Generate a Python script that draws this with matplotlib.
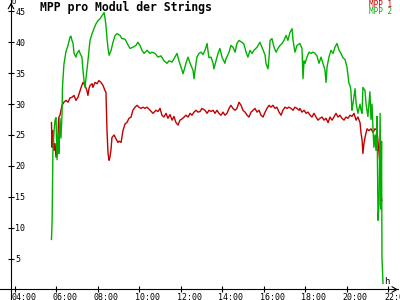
import matplotlib
matplotlib.use("Agg")
import matplotlib.pyplot as plt
import matplotlib.transforms as mtransforms

# time axis in decimal hours, values in V
t_mpp1 = [5.76, 5.79, 5.83, 5.88, 5.93, 5.98, 6.03, 6.08, 6.10, 6.12,
          6.17, 6.27, 6.36, 6.46, 6.56, 6.65, 6.75, 6.85, 6.94, 7.04,
          7.14, 7.19, 7.28, 7.38, 7.47, 7.52, 7.57, 7.62, 7.72, 7.76,
          7.86, 7.96, 8.05, 8.15, 8.25, 8.34, 8.39, 8.44, 8.49, 8.54,
          8.58, 8.63, 8.68, 8.78, 8.87, 8.97, 9.02, 9.12, 9.21, 9.31,
          9.40, 9.50, 9.60, 9.69, 9.79, 9.89, 9.98, 10.08, 10.18, 10.27,
          10.37, 10.52, 10.66, 10.80, 10.90, 11.00, 11.09, 11.19, 11.29, 11.38,
          11.48, 11.58, 11.67, 11.77, 11.87, 11.96, 12.06, 12.16, 12.25, 12.35,
          12.45, 12.54, 12.64, 12.74, 12.83, 12.93, 13.02, 13.17, 13.27, 13.36,
          13.46, 13.56, 13.65, 13.75, 13.84, 13.94, 14.04, 14.13, 14.23, 14.33,
          14.42, 14.52, 14.62, 14.71, 14.81, 14.91, 15.00, 15.10, 15.20, 15.29,
          15.39, 15.49, 15.58, 15.68, 15.78, 15.87, 15.97, 16.07, 16.16, 16.26,
          16.35, 16.45, 16.55, 16.64, 16.74, 16.84, 16.93, 17.03, 17.13, 17.22,
          17.32, 17.42, 17.51, 17.61, 17.71, 17.75, 17.85, 17.95, 18.05, 18.14,
          18.24, 18.33, 18.43, 18.53, 18.62, 18.72, 18.82, 18.91, 19.01, 19.11,
          19.20, 19.30, 19.39, 19.49, 19.59, 19.68, 19.78, 19.88, 19.97, 20.07,
          20.17, 20.26, 20.36, 20.46, 20.55, 20.65, 20.70, 20.75, 20.79, 20.84,
          20.89, 20.99, 21.08, 21.18, 21.28, 21.37, 21.47, 21.62, 21.66, 21.71]
mpp1 = [27, 23, 25.7, 22.5, 23.6, 21.4, 22.5, 25.2, 27.4, 27.9,
        28.2, 29.8, 30.3, 30.6, 30.3, 31, 31.1, 31.4, 30.6, 31.1,
        32.2, 32.7, 33.5, 33, 32.2, 31.4, 32.5, 33, 33.3, 32.7,
        33.5, 33.3, 33.8, 33.5, 33, 32.2, 31.9, 25.7, 22, 20.9,
        21.4, 22.5, 24.6, 25, 24.4, 23.8, 24, 23.8, 25.7, 26.8,
        27, 27.7, 27.9, 29, 29.5, 29.8, 29.5, 29.3, 29.5, 29.3,
        29.5, 29, 28.5, 29, 28.8, 29.3, 28.2, 27.9, 28.5, 27.7,
        28.3, 27.4, 28, 27, 26.6, 27.4, 27.6, 27.9, 28.2, 27.9,
        28.5, 28.2, 28.7, 29, 28.7, 28.8, 29.3, 29, 28.5, 29,
        28.8, 29, 28.5, 29, 28.5, 28.2, 28.7, 28.2, 28.5, 29.3,
        29.8, 29.3, 29, 29.3, 30.3, 29.8, 29, 28.7, 28.2, 27.9,
        28.7, 29, 29.3, 28.7, 29, 28.2, 27.9, 28.7, 29.3, 29.8,
        29.5, 29.8, 29.3, 29.5, 28.7, 28.2, 29, 29.5, 29.3, 29.5,
        29.3, 29, 29.5, 29.3, 29, 29.3, 28.7, 29, 28.5, 28.7,
        28.2, 27.9, 28.5, 27.9, 27.4, 27.7, 27.9, 27.4, 27.7, 27,
        27.9, 27.4, 27.9, 28.5, 27.9, 28.2, 27.7, 27.4, 27.9, 27.7,
        28.2, 28, 28.5, 27.4, 27.9, 27, 25.3, 24.2, 22, 23.6,
        24.6, 26, 25.7, 26, 25.4, 26, 25.8, 20, 15, 14.4]

t_mpp2 = [5.76, 5.79, 5.81, 5.83, 5.88, 5.93, 5.98, 6.03, 6.08, 6.12,
          6.17, 6.22, 6.27, 6.29, 6.36, 6.46, 6.56, 6.65, 6.70, 6.75,
          6.80, 6.85, 6.94, 6.99, 7.09, 7.14, 7.23, 7.28, 7.33, 7.38,
          7.43, 7.52, 7.62, 7.72, 7.81, 7.91, 8.01, 8.10, 8.20, 8.30,
          8.34, 8.39, 8.44, 8.49, 8.54, 8.63, 8.73, 8.83, 8.92, 9.07,
          9.16, 9.31, 9.45, 9.55, 9.69, 9.84, 9.93, 10.03, 10.13, 10.23,
          10.37, 10.52, 10.61, 10.76, 10.90, 11.05, 11.19, 11.34, 11.43, 11.58,
          11.72, 11.82, 11.91, 12.01, 12.11, 12.16, 12.25, 12.35, 12.45, 12.59,
          12.64, 12.69, 12.78, 12.88, 12.98, 13.07, 13.17, 13.27, 13.31, 13.36,
          13.46, 13.56, 13.60, 13.70, 13.80, 13.89, 13.99, 14.13, 14.18, 14.33,
          14.42, 14.52, 14.62, 14.71, 14.81, 14.95, 15.05, 15.15, 15.24, 15.34,
          15.44, 15.53, 15.68, 15.82, 15.92, 16.07, 16.11, 16.21, 16.26, 16.31,
          16.40, 16.50, 16.60, 16.69, 16.79, 16.89, 16.98, 17.08, 17.17, 17.27,
          17.37, 17.42, 17.51, 17.61, 17.75, 17.85, 17.90, 17.95, 18.00, 18.09,
          18.19, 18.29, 18.38, 18.48, 18.57, 18.67, 18.77, 18.86, 18.96, 19.01,
          19.06, 19.15, 19.25, 19.35, 19.44, 19.54, 19.64, 19.73, 19.83, 19.93,
          20.02, 20.12, 20.17, 20.21, 20.26, 20.31, 20.41, 20.46, 20.55, 20.65,
          20.70, 20.75, 20.79, 20.89, 20.94, 21.03, 21.13, 21.18, 21.23, 21.28,
          21.32, 21.37, 21.42, 21.47, 21.52, 21.57, 21.62, 21.66, 21.69, 21.71,
          21.76]
mpp2 = [8.1, 11, 17.2, 22.5, 25.4, 27.4, 27.8, 21, 25, 22,
        27.7, 24.5, 28.5, 32.7, 36.4, 38.5, 39.5, 40.8, 41, 40.3,
        39.8, 38.2, 37.6, 38.2, 38.7, 38.2, 37.6, 35.5, 33.8, 32.7,
        34.3, 37, 40.3, 41.4, 42.2, 43, 43.5, 43.8, 44.3, 44.8,
        44, 42.7, 40.6, 39, 37.9, 38.6, 40, 41.1, 41.4, 41.1,
        40.6, 40.5, 39.6, 39, 39.2, 39.5, 40, 39.5, 38.7, 38.2,
        38.7, 38.2, 38.4, 38.2, 37.6, 37.8, 37, 36.6, 37, 36.8,
        37.6, 38.2, 37, 36, 34.9, 35.5, 36.6, 37.6, 36.6, 35.5,
        34.1, 35.5, 37.6, 38.2, 38.4, 38, 38.7, 39.8, 38.7, 37.5,
        37.6, 36.6, 35.7, 37, 38.2, 39, 37.6, 36.6, 37.3, 38.4,
        39.5, 39.2, 38.4, 39.8, 40.3, 40, 39.7, 38.4, 37.6, 38.7,
        38.2, 38.7, 39.2, 40, 39.2, 37.9, 36.6, 35.7, 37.6, 40.3,
        40.6, 39.2, 38.4, 39, 39.5, 39.8, 40.3, 41.1, 40.3, 41.6,
        42.2, 40.3, 38.4, 39.5, 39.8, 39, 34.1, 37, 36.6, 37.6,
        38.4, 38.2, 38.4, 38.2, 37.8, 36.6, 37.6, 36.6, 35.5, 33.5,
        36, 37.6, 38.7, 38.2, 39.2, 39.8, 38.7, 38.2, 37.5, 37.2,
        36, 33.3, 33, 32.2, 29, 30, 32.5, 30.2, 28.5, 30,
        29, 28.5, 32.7, 32.2, 30.1, 28, 32, 27.5, 30, 25.7,
        23, 25, 22.5, 28, 11.2, 14, 28.5, 13, 24, 5.2,
        1]

xticks = [4, 6, 8, 10, 12, 14, 16, 18, 20, 22]
xlabels = ["04:00", "06:00", "08:00", "10:00", "12:00", "14:00", "16:00",
           "18:00", "20:00", "22:00"]
yticks = [5, 10, 15, 20, 25, 30, 35, 40, 45]

red = "#c00000"
green = "#00b000"
mono = "DejaVu Sans Mono"

fig = plt.figure(figsize=(4, 3), dpi=100)
ax = fig.add_axes([0, 0, 1, 1])
ax.set_xlim(3.276, 22.58)
ax.set_ylim(-1.70, 46.84)

ax.plot(t_mpp1, mpp1, color=red, lw=1.0)
ax.plot(t_mpp2, mpp2, color=green, lw=1.0)

for s in ["top", "right"]:
    ax.spines[s].set_visible(False)
ax.spines["left"].set_position(("data", 3.807))
ax.spines["bottom"].set_position(("data", 0))
ax.spines["bottom"].set_bounds(3.276, 22.48)
for s in ["left", "bottom"]:
    ax.spines[s].set_linewidth(0.8)

ax.set_xticks(xticks)
ax.tick_params(axis="x", direction="inout", length=4.3, width=0.8,
               labelbottom=False)
ax.set_yticks(yticks)
ax.set_yticklabels([str(v) for v in yticks], ha="left", family=mono,
                   fontsize=6)
ax.tick_params(axis="y", direction="inout", length=4.3, width=0.8, pad=-5.1)

lab_tr = mtransforms.offset_copy(ax.transData, fig=fig, x=-4, y=-4,
                                 units="dots")
for t, lab in zip(xticks, xlabels):
    ax.text(t, 0, lab, transform=lab_tr, ha="left", va="top", family=mono,
            fontsize=6, clip_on=False)

# arrow heads on the axes
ax.annotate("", xy=(22.48, 0), xytext=(22.25, 0),
            arrowprops=dict(arrowstyle="->,head_length=0.35,head_width=0.2",
                            lw=0.8, color="black"))
ax.annotate("", xy=(3.807, 46.84), xytext=(3.807, 45.5),
            arrowprops=dict(arrowstyle="->,head_length=0.35,head_width=0.2",
                            lw=0.8, color="black"))

fig.text(12 / 400, 1 - 4 / 300, "U", family=mono, fontsize=5,
         va="baseline")
fig.text(384 / 400, 1 - 284 / 300, "h", family=mono, fontsize=6.5,
         va="baseline")

fig.text(40 / 400, 1 - 11.5 / 300, "MPP pro Modul der Strings", family=mono,
         fontsize=8.3, fontweight="bold", va="baseline")
fig.text(369 / 400, 1 - 7 / 300, "MPP 1", family=mono, fontsize=5.5,
         color=red, va="baseline")
fig.text(369 / 400, 1 - 14.5 / 300, "MPP 2", family=mono, fontsize=5.5,
         color=green, va="baseline")

fig.savefig("out.png", dpi=100)
